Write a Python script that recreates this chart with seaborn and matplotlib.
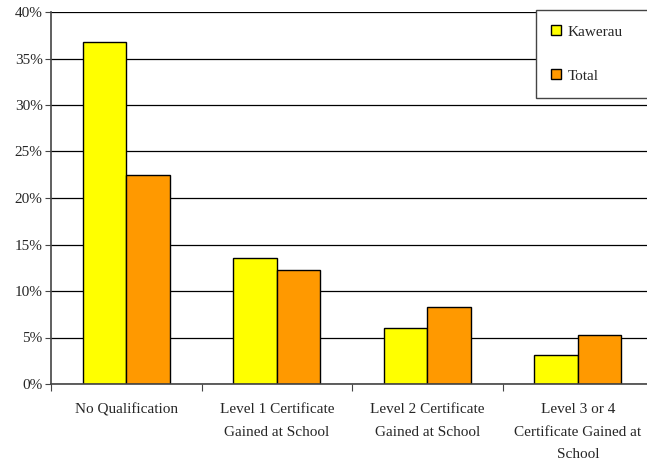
import pandas as pd
import matplotlib.pyplot as plt
import seaborn as sns
from matplotlib.ticker import PercentFormatter

categories = ['No Qualification',
              'Level 1 Certificate\nGained at School',
              'Level 2 Certificate\nGained at School',
              'Level 3 or 4\nCertificate Gained at\nSchool']
kawerau = [36.8, 13.5, 6.0, 3.1]
total = [22.5, 12.3, 8.3, 5.3]
series = ['Kawerau', 'Total']
colors = ['#FFFF00', '#FF9900']

df = pd.DataFrame({
    'Qualification': categories * 2,
    'Area': [series[0]] * 4 + [series[1]] * 4,
    'Percent': kawerau + total,
})

sns.set_style('white')
plt.rcParams['font.family'] = ['Liberation Serif', 'DejaVu Serif']

fig = plt.figure(figsize=(6.47, 4.62), dpi=100)
ax = fig.add_axes([51 / 647, 78 / 462, 602 / 647, 372 / 462])

sns.barplot(data=df, x='Qualification', y='Percent', hue='Area',
            palette=colors, width=0.58, edgecolor='black', linewidth=1,
            saturation=1, ax=ax)

ax.set_ylim(0, 40)
ax.set_xlim(-0.5, 3.5)
ax.set_yticks(range(0, 41, 5))
ax.yaxis.set_major_formatter(PercentFormatter(decimals=0))
ax.yaxis.grid(True, color='black', linewidth=0.9)
ax.set_axisbelow(True)

# category ticks sit between groups, labels sit in the middle
ax.set_xticks([-0.5, 0.5, 1.5, 2.5])
ax.set_xticklabels([])
ax.set_xticks(range(4), minor=True)
ax.set_xticklabels(categories, minor=True, linespacing=1.95, fontsize=11)
ax.tick_params(axis='x', which='minor', length=0, pad=14)
ax.tick_params(axis='x', which='major', length=5, direction='out', color='#444444')
ax.tick_params(axis='y', length=4, direction='out', color='#444444', labelsize=11, pad=2)
ax.xaxis.set_tick_params(bottom=True, which='major')
ax.yaxis.set_tick_params(left=True)
for lab in ax.get_xticklabels(minor=True):
    lab.set_verticalalignment('top')

ax.set_xlabel('')
ax.set_ylabel('')
for side in ['top', 'right']:
    ax.spines[side].set_visible(False)
for side in ['left', 'bottom']:
    ax.spines[side].set_color('#444444')
    ax.spines[side].set_linewidth(1.2)

handles, labels = ax.get_legend_handles_labels()
leg = ax.legend(handles, labels, loc='upper left', mode='expand',
                bbox_to_anchor=(536 / 647, 1 - 97 / 462, 0.25, 87 / 462),
                bbox_transform=fig.transFigure,
                frameon=True, fancybox=False, edgecolor='#444444', framealpha=1,
                handlelength=0.65, handleheight=0.65, handletextpad=0.4,
                labelspacing=2.0, borderpad=1.0, borderaxespad=0, fontsize=11)
leg.get_frame().set_linewidth(1.0)
for h in leg.legend_handles:
    h.set_edgecolor('black')
    h.set_linewidth(1)

fig.savefig('out.png', dpi=100)
plt.close(fig)
